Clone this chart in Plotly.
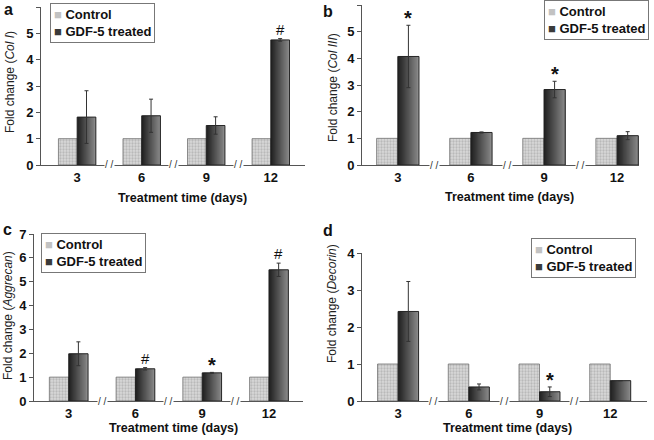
import plotly.graph_objects as go

days = ["3", "6", "9", "12"]
xpos = [0, 1, 2, 3]
series_names = ["Control", "GDF-5 treated"]
x_title = "Treatment time (days)"

ctrl_a = [1, 1, 1, 1]
gdf_a = [1.82, 1.87, 1.5, 4.75]
err_a = [1.0, 0.63, 0.33, 0.05]
sig_a = ["", "", "", "#"]

ctrl_b = [1, 1, 1, 1]
gdf_b = [4.07, 1.22, 2.83, 1.1]
err_b = [1.17, 0.02, 0.31, 0.15]
sig_b = ["*", "", "*", ""]

ctrl_c = [1, 1, 1, 1]
gdf_c = [1.98, 1.35, 1.18, 5.5]
err_c = [0.5, 0.05, 0.02, 0.28]
sig_c = ["", "#", "*", "#"]

ctrl_d = [1, 1, 1, 1]
gdf_d = [2.42, 0.38, 0.25, 0.55]
err_d = [0.81, 0.08, 0.13, 0.0]
sig_d = ["", "", "*", ""]

W, H = 654, 440
panels = [
    dict(letter="a", ctrl=ctrl_a, gdf=gdf_a, err=err_a, sig=sig_a, gene="Col I", ymax=6,
         xdom=[41, 305], ydom=[165, 7], xr=[-0.56, 3.53], leg=(50, 3), let=(2, -1),
         xt=(182, 198), yt=(10, 82)),
    dict(letter="b", ctrl=ctrl_b, gdf=gdf_b, err=err_b, sig=sig_b, gene="Col III", ymax=6,
         xdom=[362, 639], ydom=[165, 5], xr=[-0.49, 3.30], leg=(544, 0), let=(321, 1),
         xt=(509, 197), yt=(333, 87)),
    dict(letter="c", ctrl=ctrl_c, gdf=gdf_c, err=err_c, sig=sig_c, gene="Aggrecan", ymax=7,
         xdom=[34, 303], ydom=[401, 234], xr=[-0.52, 3.51], leg=(41, 233), let=(1, 219),
         xt=(173, 428), yt=(8, 316)),
    dict(letter="d", ctrl=ctrl_d, gdf=gdf_d, err=err_d, sig=sig_d, gene="Decorin", ymax=4,
         xdom=[362, 647], ydom=[401, 253], xr=[-0.51, 3.52], leg=(531, 238), let=(321, 220),
         xt=(507, 428), yt=(332, 304)),
]

FONT = "Liberation Sans, Arial, sans-serif"
GRAD = ["#222222", "#282828", "#2e2e2e", "#343434", "#3a3a3a", "#404040",
        "#464646", "#4c4c4c", "#525252", "#585858", "#5e5e5e", "#646464",
        "#6a6a6a", "#707070", "#767676", "#7c7c7c", "#828282", "#888888"]
BW = 0.29
NS = len(GRAD)

fig = go.Figure()
annotations = []
layout_upd = {}

for i, p in enumerate(panels):
    n = "" if i == 0 else str(i + 1)
    xa, ya = "x" + n, "y" + n
    # control bars
    fig.add_trace(go.Bar(
        x=xpos, y=p["ctrl"], name=series_names[0], xaxis=xa, yaxis=ya,
        width=BW, offset=-BW, showlegend=False,
        marker=dict(color="#d0d0d0", line=dict(color="#707070", width=0.8),
                    pattern=dict(shape=".", fgcolor="#9a9a9a", bgcolor="#d8d8d8",
                                 size=3, solidity=0.45)),
    ))
    # treated bars: horizontal gradient built from overlapping thin slices
    for k, col in enumerate(GRAD):
        off = k * BW / NS
        fig.add_trace(go.Bar(
            x=xpos, y=p["gdf"], name=series_names[1], xaxis=xa, yaxis=ya,
            width=min(2.5 * BW / NS, BW - off), offset=off, showlegend=False,
            marker=dict(color=col, line=dict(width=0)), hoverinfo="skip",
        ))
    fig.add_trace(go.Bar(
        x=xpos, y=p["gdf"], name=series_names[1], xaxis=xa, yaxis=ya,
        width=BW, offset=0, showlegend=False,
        marker=dict(color="rgba(0,0,0,0)", line=dict(color="#1e1e1e", width=0.9)),
        error_y=dict(type="data", array=p["err"], color="#333333", thickness=1, width=2),
    ))
    layout_upd["xaxis" + n] = dict(
        domain=[p["xdom"][0] / W, p["xdom"][1] / W], anchor=ya, range=p["xr"],
        tickvals=xpos, ticktext=days, automargin=False,
        showline=True, linecolor="#555555", linewidth=1, ticks="", showgrid=False, zeroline=False,
        tickfont=dict(family=FONT, size=13, color="#111", weight="bold"),
    )
    layout_upd["yaxis" + n] = dict(
        domain=[1 - p["ydom"][0] / H, 1 - p["ydom"][1] / H], anchor=xa,
        range=[0, p["ymax"]], dtick=1, automargin=False,
        showline=True, linecolor="#555555", linewidth=1, ticks="outside", ticklen=4,
        tickcolor="#555555", showgrid=False, zeroline=False,
        tickfont=dict(family=FONT, size=13, color="#111", weight="bold"),
    )
    # axis titles
    annotations.append(dict(
        x=p["xt"][0] / W, y=1 - p["xt"][1] / H, xref="paper", yref="paper",
        xanchor="center", yanchor="middle", showarrow=False, text=x_title,
        font=dict(family=FONT, size=12.5, color="#111", weight="bold"),
    ))
    annotations.append(dict(
        x=p["yt"][0] / W, y=1 - p["yt"][1] / H, xref="paper", yref="paper",
        xanchor="center", yanchor="middle", showarrow=False, textangle=-90,
        text="Fold change (<i>" + p["gene"] + "</i>)",
        font=dict(family=FONT, size=12, color="#222"),
    ))
    # legend box
    annotations.append(dict(
        x=p["leg"][0] / W, y=1 - p["leg"][1] / H, xref="paper", yref="paper",
        xanchor="left", yanchor="top", align="left", showarrow=False,
        text=("<span style='color:#c2c2c2'>■</span> " + series_names[0] + "<br>"
              "<span style='color:#3a3a3a'>■</span> " + series_names[1]),
        bgcolor="white", bordercolor="#777777", borderwidth=1, borderpad=3,
        font=dict(family=FONT, size=13, color="#111", weight="bold"),
    ))
    # significance markers
    for j, s in enumerate(p["sig"]):
        if s:
            annotations.append(dict(
                x=xpos[j] + BW / 2, y=p["gdf"][j] + p["err"][j], xref=xa, yref=ya,
                text=s, showarrow=False, yanchor="bottom",
                yshift=-6 if s == "*" else -1,
                font=dict(family=FONT, size=20 if s == "*" else 15, color="#111",
                          weight="bold" if s == "*" else "normal"),
            ))
    # axis break marks
    for j in range(3):
        annotations.append(dict(
            x=xpos[j] + 0.5, y=0, xref=xa, yref=ya, text="/ /", showarrow=False,
            yanchor="middle", bgcolor="white", borderpad=0,
            font=dict(family=FONT, size=10, color="#333"),
        ))
    annotations.append(dict(
        x=p["let"][0] / W, y=1 - p["let"][1] / H, xref="paper", yref="paper", text=p["letter"],
        showarrow=False, xanchor="left", yanchor="top",
        font=dict(family=FONT, size=16, color="#111", weight="bold"),
    ))

fig.update_layout(
    width=W, height=H, margin=dict(l=0, r=0, t=0, b=0, autoexpand=False),
    paper_bgcolor="white", plot_bgcolor="white",
    barmode="overlay", showlegend=False, annotations=annotations,
    **layout_upd,
)

fig.write_html("out.html", config={"displayModeBar": False},
               post_script="document.body.style.margin='0';document.body.style.padding='0';")
